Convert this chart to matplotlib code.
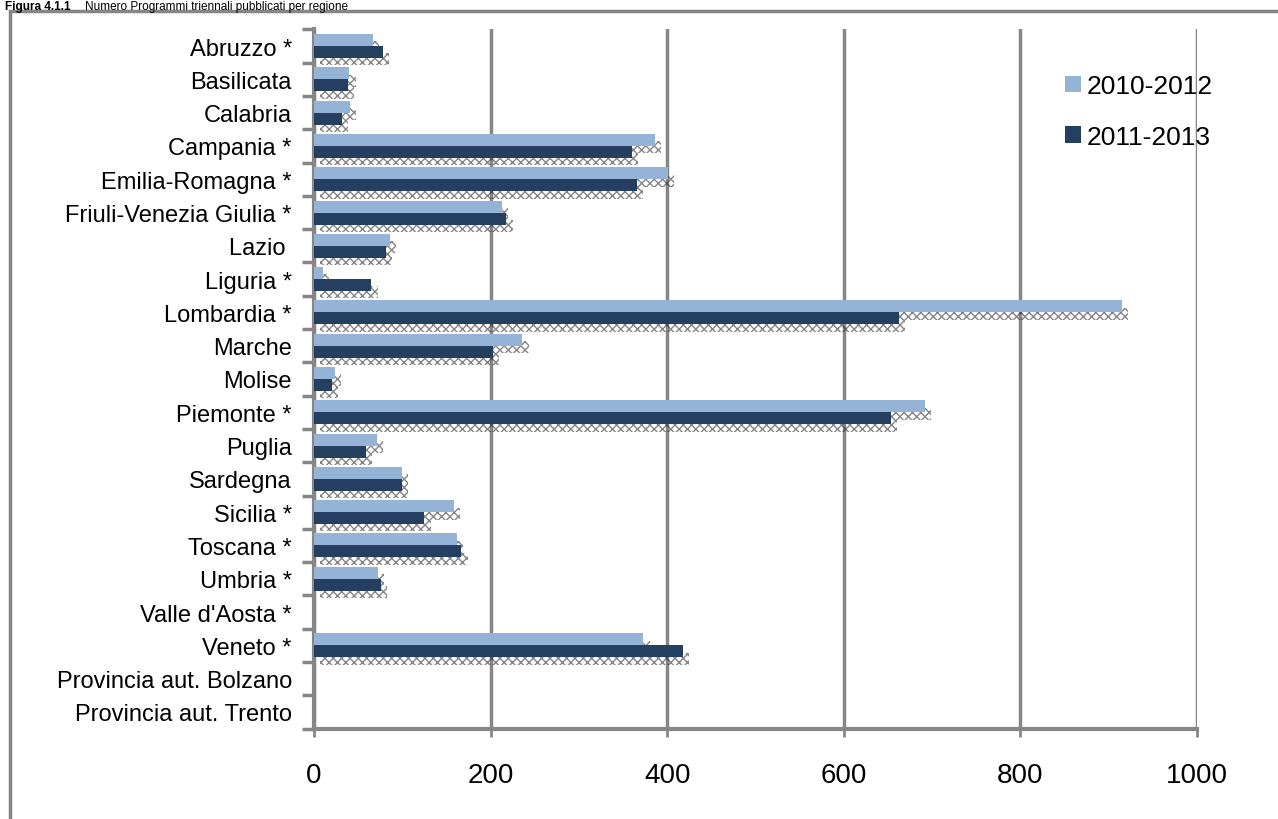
import matplotlib
matplotlib.use("Agg")
import matplotlib.pyplot as plt
import matplotlib.patches as mpatches
import numpy as np

plt.rcParams['font.family'] = ['Liberation Sans', 'DejaVu Sans']
plt.rcParams['hatch.linewidth'] = 1.0

regions = ["Abruzzo *", "Basilicata", "Calabria", "Campania *", "Emilia-Romagna *",
           "Friuli-Venezia Giulia *", "Lazio ", "Liguria *", "Lombardia *", "Marche",
           "Molise", "Piemonte *", "Puglia", "Sardegna", "Sicilia *", "Toscana *",
           "Umbria *", "Valle d'Aosta *", "Veneto *", "Provincia aut. Bolzano",
           "Provincia aut. Trento"]
v_2010_2012 = [67, 40, 41, 386, 401, 213, 86, 10, 915, 236, 24, 692, 71, 100, 158, 162, 72, 0, 373, 0, 0]
v_2011_2013 = [78, 38, 32, 360, 366, 218, 81, 65, 662, 203, 20, 653, 59, 100, 125, 167, 76, 0, 418, 0, 0]
labels = ["2010-2012", "2011-2013"]
colors = ["#95b3d7", "#243f60"]

W, H = 1278, 820
fig = plt.figure(figsize=(W / 100, H / 100), dpi=100)
ax = fig.add_axes([314 / W, 1 - 729.6 / H, (1197 - 314) / W, (729.6 - 30.4) / H])

y = np.arange(len(regions))
h = 0.36
gray = "#868686"

# dotted shadows
for vals, off in [(v_2010_2012, -h / 2), (v_2011_2013, h / 2)]:
    for yi, v in zip(y, vals):
        if v > 0:
            ax.barh(yi + off + 0.22, v, height=h, left=7, color="none", edgecolor="#222222",
                    hatch="xxxx", linewidth=0, zorder=1, alpha=0.55)

ax.barh(y - h / 2, v_2010_2012, height=h, color=colors[0], zorder=3, label=labels[0])
ax.barh(y + h / 2, v_2011_2013, height=h, color=colors[1], zorder=3, label=labels[1])

ax.set_xlim(0, 1000)
ax.set_ylim(len(regions) - 0.5, -0.5)
ax.set_xticks(range(0, 1001, 200))
ax.xaxis.grid(True, color=gray, linewidth=2.5, zorder=0)
ax.set_axisbelow(True)
ax.tick_params(axis='x', length=6, width=2, color=gray, pad=18, labelsize=20)

ax.set_yticks(y)
ax.set_yticklabels(regions)
ax.set_yticks(np.arange(-0.5, len(regions)), minor=True)
ax.tick_params(axis='y', which='major', length=0, pad=16, labelsize=17)
ax.tick_params(axis='y', which='minor', length=9, width=2.5, color=gray)

for s in ["top", "right"]:
    ax.spines[s].set_visible(False)
for s in ["left", "bottom"]:
    ax.spines[s].set_color(gray)
    ax.spines[s].set_linewidth(3)

leg = fig.legend(loc="upper left", bbox_to_anchor=(1052 / W, 1 - 62 / H), frameon=False,
                 fontsize=19, handlelength=0.6, handleheight=0.6, handletextpad=0.2,
                 labelspacing=1.0, borderpad=0)

# outer frame
fig.patches.append(mpatches.Rectangle((10 / W, -0.1), 1.2, 1.1 - 12 / H, transform=fig.transFigure,
                                      fill=False, edgecolor=gray, linewidth=2.5))

fig.text(5 / W, 1 - 1 / H, "Figura 4.1.1", fontsize=8.5, fontweight="bold", va="top")
fig.text(85 / W, 1 - 1 / H, "Numero Programmi triennali pubblicati per regione", fontsize=8.5, va="top")

fig.savefig("out.png", dpi=100)
